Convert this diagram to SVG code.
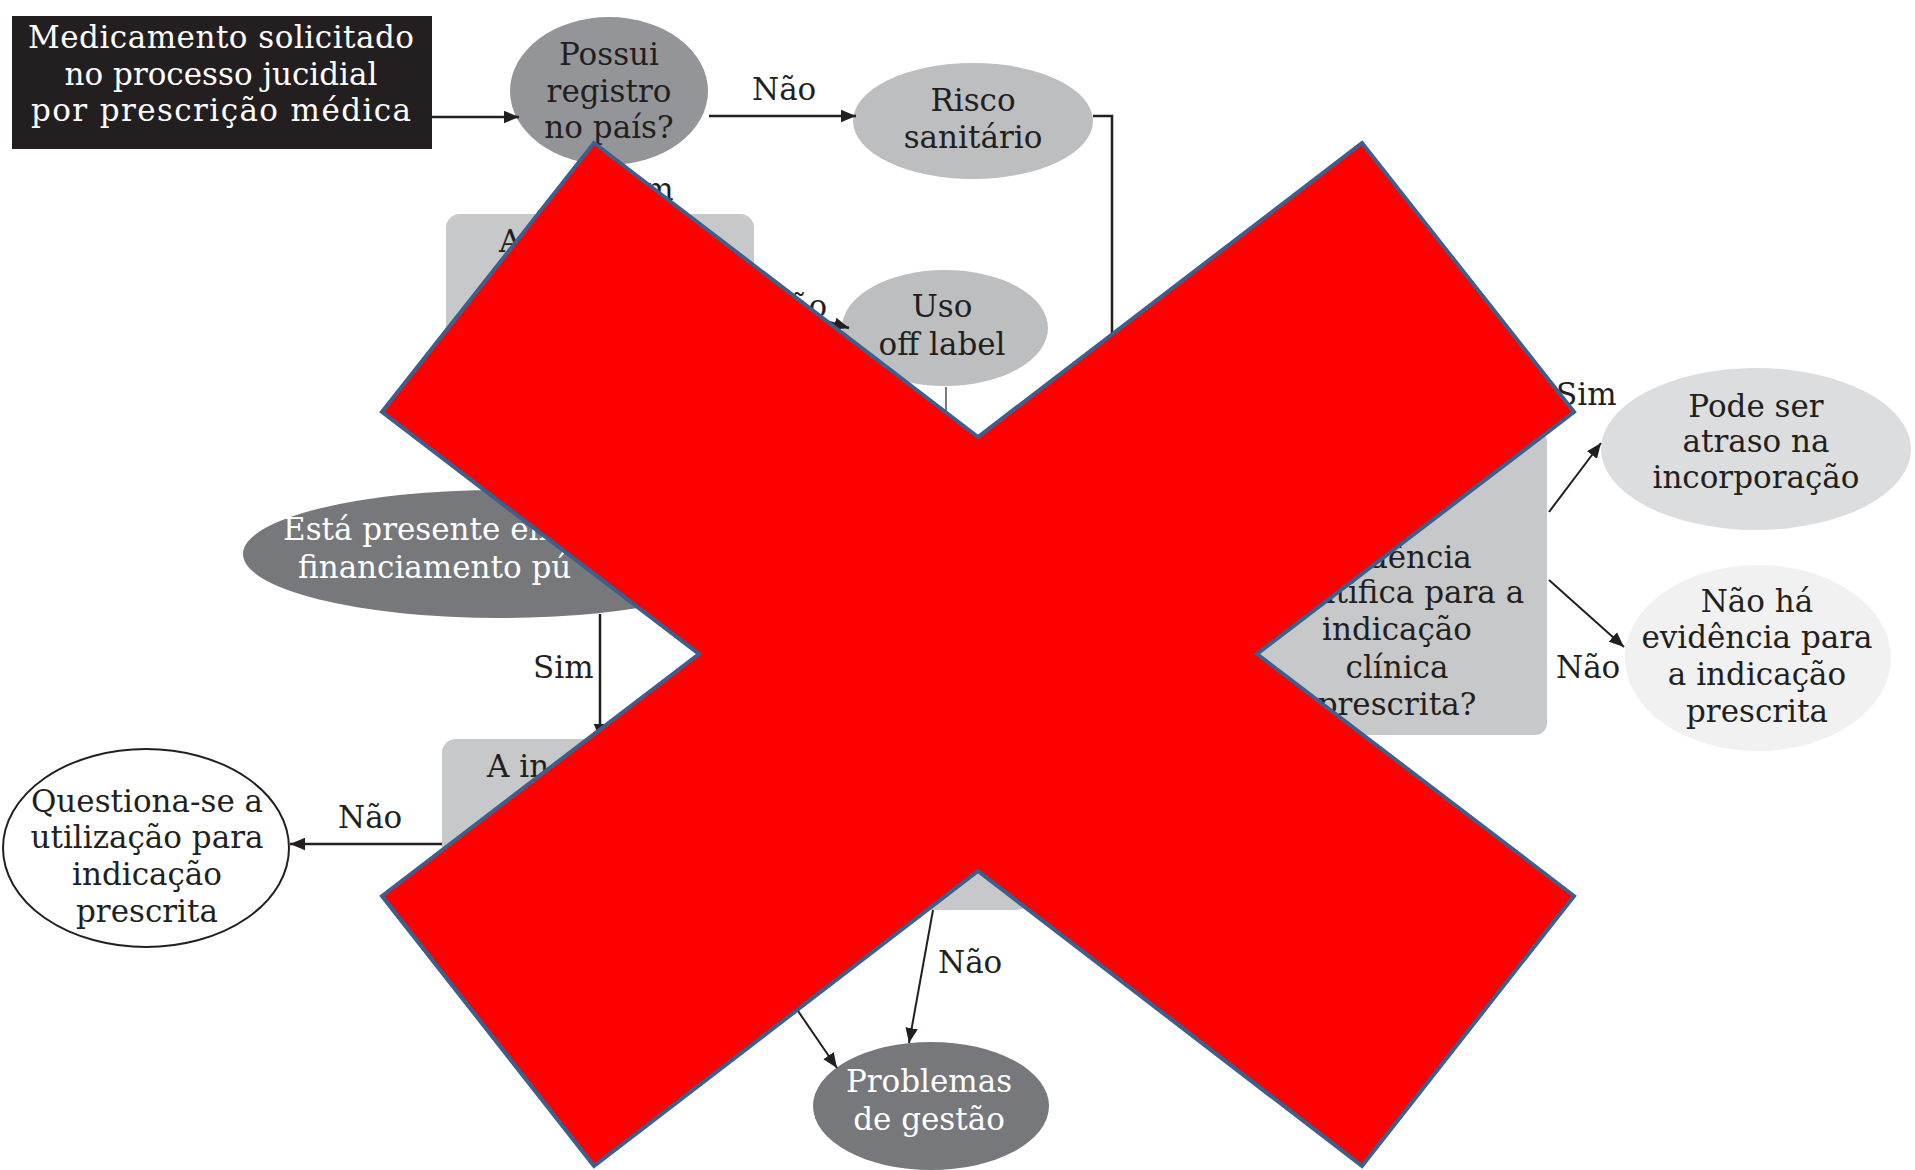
<svg xmlns="http://www.w3.org/2000/svg" width="1915" height="1170" viewBox="0 0 1915 1170">
<defs>
<marker id="arr" viewBox="0 0 12 10" refX="12" refY="5" markerWidth="15" markerHeight="13" markerUnits="userSpaceOnUse" orient="auto">
<path d="M0,0 L12,5 L0,10 z" fill="#231f20"/>
</marker>
<style>
text{font-family:"DejaVu Serif","Liberation Serif",serif;font-size:31px;fill:#231f20;text-anchor:middle}
.w{fill:#ffffff}
.l{text-anchor:start}
.lbl{font-size:31px;text-anchor:start}
.c{stroke:#231f20;stroke-width:2.5;fill:none}
.cm{stroke:#231f20;stroke-width:2.5;fill:none;marker-end:url(#arr)}
.thin{stroke:#231f20;stroke-width:2;fill:none;marker-end:url(#arr)}
</style>
</defs>
<rect width="1915" height="1170" fill="#ffffff"/>

<g id="n-medicamento">
<rect x="12" y="16" width="420" height="133" fill="#231f20"/>
<text class="w" x="221" y="48" textLength="386">Medicamento solicitado</text>
<text class="w" x="221" y="85">no processo jucidial</text>
<text class="w" x="221" y="121" textLength="380">por prescrição médica</text>
</g>

<g id="n-possui">
<ellipse cx="609" cy="91" rx="99" ry="74" fill="#939598"/>
<text x="609" y="65" fill="#2a2a2a">Possui</text>
<text x="609" y="102">registro</text>
<text x="609" y="138">no país?</text>
</g>

<g id="n-risco">
<ellipse cx="973" cy="121" rx="120" ry="58" fill="#bcbec0"/>
<text x="973" y="111">Risco</text>
<text x="973" y="148">sanitário</text>
</g>

<g id="n-topbox">
<rect x="446" y="214" width="308" height="210" rx="14" fill="#c7c8ca"/>
<text class="l" x="499" y="252">A</text>
</g>

<g id="n-uso">
<ellipse cx="945" cy="328" rx="103" ry="58" fill="#bcbec0"/>
<text x="942" y="317">Uso</text>
<text x="942" y="355">off label</text>
</g>

<g id="n-esta">
<ellipse cx="500" cy="554" rx="257" ry="64" fill="#77787b"/>
<text class="w l" x="283" y="540">Está presente em</text>
<text class="w l" x="298" y="578">financiamento pú</text>
</g>

<g id="n-evidencia">
<rect x="1247" y="430" width="300" height="305" rx="12" fill="#c7c8ca"/>
<text x="1397" y="568">evidência</text>
<text x="1397" y="603">científica para a</text>
<text x="1397" y="640">indicação</text>
<text x="1397" y="678">clínica</text>
<text x="1397" y="715">prescrita?</text>
</g>

<g id="n-podeser">
<ellipse cx="1756" cy="449" rx="155" ry="81" fill="#dcddde"/>
<text x="1756" y="417">Pode ser</text>
<text x="1756" y="452">atraso na</text>
<text x="1756" y="488">incorporação</text>
</g>

<g id="n-naoha">
<ellipse cx="1758" cy="658" rx="133" ry="93" fill="#f1f1f2"/>
<text x="1757" y="612">Não há</text>
<text x="1757" y="648">evidência para</text>
<text x="1757" y="685">a indicação</text>
<text x="1757" y="722">prescrita</text>
</g>

<g id="n-lowbox">
<rect x="442" y="739" width="588" height="171" rx="14" fill="#c7c8ca"/>
<text class="l" x="487" y="777">A in</text>
</g>

<g id="n-questiona">
<ellipse cx="146" cy="848" rx="143" ry="99" fill="#ffffff" stroke="#231f20" stroke-width="2"/>
<text x="147" y="812">Questiona-se a</text>
<text x="147" y="848">utilização para</text>
<text x="147" y="885">indicação</text>
<text x="147" y="922">prescrita</text>
</g>

<g id="n-problemas">
<ellipse cx="931" cy="1106" rx="118" ry="64" fill="#77787b"/>
<text class="w" x="929" y="1092">Problemas</text>
<text class="w" x="929" y="1130">de gestão</text>
</g>

<g id="connectors">
<line class="cm" x1="432" y1="117" x2="519" y2="117"/>
<line class="cm" x1="709" y1="116" x2="856" y2="116"/>
<polyline class="c" points="1093,116 1112,116 1112,440"/>
<line class="cm" x1="610" y1="166" x2="610" y2="213"/>
<line class="cm" x1="754" y1="300" x2="849" y2="328"/>
<line x1="946" y1="387" x2="946" y2="440" stroke="#7a7a7a" stroke-width="2"/>
<line class="cm" x1="600" y1="614" x2="600" y2="739"/>
<line class="cm" x1="442" y1="844" x2="290" y2="844"/>
<line class="thin" x1="933" y1="910" x2="909" y2="1043"/>
<line class="thin" x1="770" y1="970" x2="837" y2="1068"/>
<line class="thin" x1="1549" y1="512" x2="1601" y2="443"/>
<line class="thin" x1="1549" y1="580" x2="1624" y2="647"/>
<text class="lbl" x="752" y="100">Não</text>
<text class="lbl" x="613" y="200">Sim</text>
<text class="lbl" x="763" y="317">Não</text>
<text class="lbl" x="533" y="678">Sim</text>
<text class="lbl" x="338" y="828">Não</text>
<text class="lbl" x="938" y="973">Não</text>
<text class="lbl" x="1556" y="405">Sim</text>
<text class="lbl" x="1556" y="678">Não</text>
</g>

<polygon id="cross" points="594,143 978,437 1362,143 1574,412 1257,654 1574,896 1362,1166 978,871 594,1166 382,896 699,654 382,412" fill="#ff0000" stroke="#3c5f8c" stroke-width="4" stroke-linejoin="miter"/>
</svg>
